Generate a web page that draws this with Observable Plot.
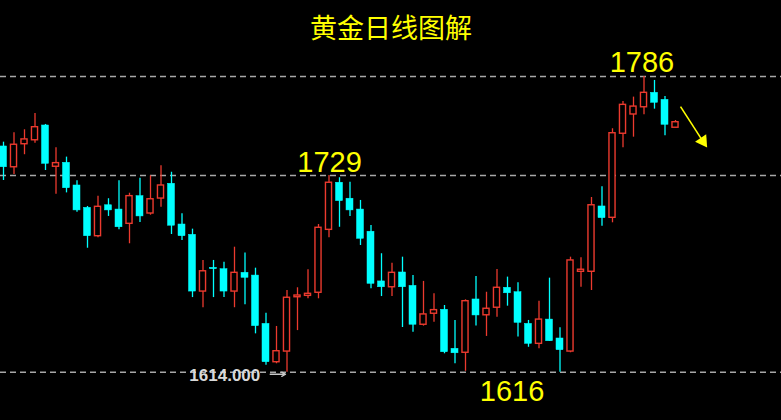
<!DOCTYPE html>
<html><head><meta charset="utf-8">
<script src="https://cdn.jsdelivr.net/npm/d3@7"></script>
<script src="https://cdn.jsdelivr.net/npm/@observablehq/plot@0.6"></script>
<style>html,body{margin:0;padding:0;background:#000;overflow:hidden}</style>
</head><body><div id="chart"></div>
<script>
// Daily gold candles (price)
const opens  = [1745.3,1733.2,1746.6,1748.9,1757.5,1733.5,1735.8,1722.6,1709.6,1693.1,
                1711.1,1708.6,1700.3,1716.4,1706.3,1715.0,1723.6,1699.9,1693.9,1660.9,
                1674.7,1673.9,1660.9,1671.8,1670.2,1642.1,1619.8,1626.0,1657.6,1658.4,
                1660.2,1696.8,1724.2,1714.9,1708.6,1695.7,1666.8,1663.4,1672.0,1664.2,
                1641.6,1648.0,1650.3,1627.6,1625.3,1656.3,1647.1,1651.5,1663.1,1660.5,
                1642.1,1630.5,1644.6,1633.6,1626.0,1672.4,1672.4,1710.4,1703.8,1752.7,
                1763.9,1768.1,1776.5,1772.4,1756.2];
const highs  = [1747.8,1753.3,1755.0,1764.5,1758.1,1744.5,1739.1,1725.3,1710.4,1716.4,
                1714.9,1725.3,1718.1,1726.8,1728.2,1734.1,1730.3,1706.1,1697.2,1679.0,
                1679.0,1678.0,1686.7,1683.4,1674.5,1648.3,1640.6,1661.5,1663.1,1673.6,
                1699.9,1728.4,1727.1,1724.5,1713.9,1699.3,1682.9,1677.4,1680.9,1670.2,
                1666.8,1659.6,1652.8,1644.1,1656.1,1669.7,1660.5,1673.7,1669.3,1666.0,
                1644.1,1655.3,1668.7,1639.8,1680.9,1680.5,1715.6,1721.8,1755.6,1771.5,
                1774.0,1786.0,1783.7,1774.4,1760.4];
const lows   = [1725.5,1729.0,1740.5,1747.2,1731.3,1717.5,1718.3,1707.1,1686.1,1692.2,
                1704.6,1696.8,1688.7,1701.1,1705.3,1710.0,1694.1,1690.6,1657.4,1651.5,
                1657.4,1657.4,1651.5,1653.2,1636.3,1618.1,1618.9,1614.0,1638.2,1656.7,
                1656.7,1692.2,1698.3,1704.6,1687.7,1662.5,1658.0,1658.0,1640.0,1637.3,
                1640.8,1643.1,1624.7,1618.9,1614.5,1640.8,1634.8,1646.0,1652.4,1634.4,
                1628.5,1627.6,1632.0,1614.0,1625.3,1663.4,1661.5,1698.9,1700.9,1744.5,
                1750.7,1763.7,1767.0,1751.5,1756.2];
const closes = [1733.2,1746.3,1749.4,1756.5,1735.2,1735.6,1721.0,1708.1,1693.1,1710.2,
                1708.1,1698.3,1716.4,1704.6,1714.6,1722.6,1699.2,1693.1,1660.9,1672.7,
                1673.9,1660.9,1671.8,1668.9,1640.8,1619.8,1626.2,1657.3,1658.6,1659.6,
                1698.0,1724.2,1713.5,1708.1,1691.6,1665.4,1663.4,1671.8,1663.4,1641.6,
                1647.6,1650.1,1625.6,1625.0,1655.3,1647.0,1650.9,1663.1,1659.9,1642.7,
                1630.5,1644.6,1632.0,1626.8,1679.0,1673.6,1711.1,1703.6,1753.0,1769.5,
                1768.5,1776.5,1770.7,1757.9,1759.4];

// horizontal reference levels (dashed)
const levels = [1786, 1728.4, 1614];
// price annotations
const noteText  = ["1786", "1729", "1616"];
const noteIndex = [60.8, 31.05, 48.43];
const notePrice = [1788.9, 1730.7, 1597.5];
// MT4 price tag
const tagText = ["1614.000"];
const tagIndex = [17.7];
const tagPrice = [1612.2];
const tagArrowIdx = [25.4, 26.86];
const tagArrowPrice = [1612.8, 1612.8];
// trend arrow (shaft + filled head)
const arrowIdx = [64.48, 66.6];
const arrowPrice = [1768.5, 1748.4];
const arrowHeadRotate = [146];
const title = "黄金日线图解";

const RED = "#ec3a2e", CYAN = "#00ffff", YELLOW = "#ffff00";

const candles = opens.map((o, i) => ({i, open: o, high: highs[i], low: lows[i], close: closes[i], up: closes[i] >= o}));
const notes = noteText.map((t, k) => ({t, x: noteIndex[k], y: notePrice[k]}));
const tags = tagText.map((t, k) => ({t, x: tagIndex[k], y: tagPrice[k]}));

const chart = Plot.plot({
  width: 781, height: 420,
  margin: 0,
  style: {background: "#000", overflow: "visible"},
  x: {domain: [-3 / 10.5, 778 / 10.5], axis: null},
  y: {domain: [1585.9, 1830.2], axis: null},
  marks: [
    Plot.ruleY(levels, {stroke: "#a8a8a8", strokeDasharray: "6,4", strokeWidth: 1.5}),
    Plot.ruleX(candles, {x: "i", y1: "low", y2: "high", stroke: d => d.up ? RED : CYAN, strokeWidth: 1.3}),
    Plot.rect(candles.filter(d => d.up), {x1: d => d.i - 0.29, x2: d => d.i + 0.29, y1: "open", y2: "close", fill: "#000", stroke: RED, strokeWidth: 1.4}),
    Plot.rect(candles.filter(d => !d.up), {x1: d => d.i - 0.333, x2: d => d.i + 0.333, y1: "open", y2: "close", fill: CYAN, stroke: CYAN, strokeWidth: 0.5}),
    Plot.text([title], {frameAnchor: "top", dy: 29, lineAnchor: "middle", fill: YELLOW, fontSize: 27, fontFamily: "Noto Sans CJK SC"}),
    Plot.text(notes, {x: "x", y: "y", text: "t", lineAnchor: "bottom", textAnchor: "middle", fill: YELLOW, fontSize: 29, fontFamily: "Liberation Sans, Arial, sans-serif"}),
    Plot.text(tags, {x: "x", y: "y", text: "t", lineAnchor: "middle", textAnchor: "start", fill: "#d8d8d8", fontSize: 17, fontWeight: "bold", fontFamily: "Liberation Sans, Arial, sans-serif"}),
    Plot.arrow([0], {x1: () => tagArrowIdx[0], x2: () => tagArrowIdx[1], y1: () => tagArrowPrice[0], y2: () => tagArrowPrice[1], stroke: "#c8c8c8", strokeWidth: 1.3, headLength: 5}),
    Plot.link([0], {x1: () => arrowIdx[0], x2: () => arrowIdx[1], y1: () => arrowPrice[0], y2: () => arrowPrice[1], stroke: YELLOW, strokeWidth: 1.6}),
    Plot.dot([0], {x: () => arrowIdx[1], y: () => arrowPrice[1], symbol: "triangle", rotate: arrowHeadRotate[0], r: 5, fill: YELLOW})
  ]
});
document.getElementById("chart").appendChild(chart);
</script>
</body></html>
